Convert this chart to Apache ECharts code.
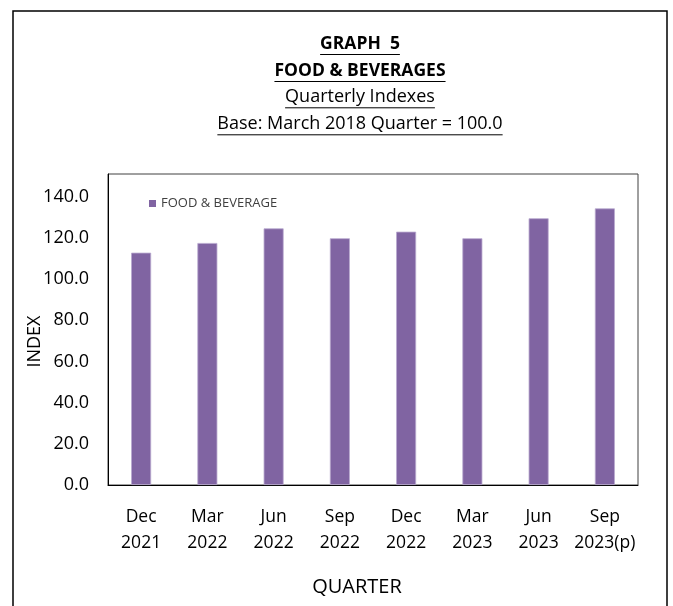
<!DOCTYPE html>
<html>
<head>
<meta charset="utf-8">
<script src="https://cdn.jsdelivr.net/npm/echarts@6/dist/echarts.min.js"></script>
<style>
  html, body { margin: 0; padding: 0; background: #fff; }
  #chart { width: 673px; height: 606px; }
</style>
</head>
<body>
<div id="chart"></div>
<script>
// data
const quarters = ['Dec\n2021', 'Mar\n2022', 'Jun\n2022', 'Sep\n2022', 'Dec\n2022', 'Mar\n2023', 'Jun\n2023', 'Sep\n2023(p)']
const foodIndex = [112.8, 117.5, 124.6, 119.8, 123.0, 119.8, 129.5, 134.3]
const titleLines = ['GRAPH  5', 'FOOD & BEVERAGES', 'Quarterly Indexes', 'Base: March 2018 Quarter = 100.0']

const FONT = '"Open Sans", "Liberation Sans", sans-serif'

// measure text so the underline matches its width
const ctx = document.createElement('canvas').getContext('2d')
function underlinedText(str, cx, cy, size, weight) {
  ctx.font = weight + ' ' + size + 'px ' + FONT
  const w = ctx.measureText(str).width
  return {
    type: 'group',
    children: [
      { type: 'text', x: cx, y: cy,
        style: { text: str, font: weight + ' ' + size + 'px ' + FONT, fill: '#000', align: 'center', verticalAlign: 'middle' } },
      { type: 'line', shape: { x1: cx - w / 2, y1: cy + size * 0.6, x2: cx + w / 2, y2: cy + size * 0.6 },
        style: { stroke: '#000', lineWidth: 1 } }
    ]
  }
}

const chart = echarts.init(document.getElementById('chart'))

const titleY = [44, 71, 97, 124]
const graphics = [
  { type: 'rect', shape: { x: 13, y: 11, width: 654, height: 640 },
    style: { fill: 'none', stroke: '#000', lineWidth: 1.5 } }
]
titleLines.forEach((t, i) => {
  graphics.push(underlinedText(t, 360, titleY[i], i < 2 ? 17.5 : 18, i < 2 ? 'bold' : 'normal'))
})

chart.setOption({
  animation: false,
  graphic: graphics,
  legend: {
    left: 144, top: 192,
    itemWidth: 7, itemHeight: 7, icon: 'rect',
    itemStyle: { borderWidth: 0 },
    textStyle: { fontFamily: FONT, fontSize: 13, color: '#404040' },
    data: ['FOOD & BEVERAGE']
  },
  grid: {
    left: 108, right: 35, top: 174, bottom: 121,
    show: true, borderColor: '#404040', borderWidth: 1
  },
  xAxis: {
    type: 'category',
    data: quarters,
    name: 'QUARTER',
    nameLocation: 'middle',
    nameGap: 92,
    nameMoveOverlap: false,
    nameTextStyle: { fontFamily: FONT, fontSize: 20, color: '#000', padding: [0, 32, 0, 0] },
    axisLine: { lineStyle: { color: '#000', width: 1 } },
    axisTick: { show: false },
    axisLabel: { fontFamily: FONT, fontSize: 17.5, color: '#000', lineHeight: 26, margin: 19, interval: 0 }
  },
  yAxis: {
    type: 'value',
    min: 0, max: 151, interval: 20,
    name: 'INDEX',
    nameLocation: 'middle',
    nameGap: 64,
    nameMoveOverlap: false,
    nameTextStyle: { fontFamily: FONT, fontSize: 18, color: '#000', padding: [0, 24, 0, 0] },
    splitLine: { show: false },
    axisLine: { show: true, lineStyle: { color: '#000', width: 1 } },
    axisTick: { show: false },
    axisLabel: {
      fontFamily: FONT, fontSize: 18, color: '#000', margin: 19,
      showMaxLabel: false,
      formatter: v => v.toFixed(1)
    }
  },
  series: [
    {
      name: 'FOOD & BEVERAGE',
      type: 'bar',
      data: foodIndex,
      barWidth: 20,
      itemStyle: { color: '#8064A2', borderColor: '#b9a9cf', borderWidth: 0.8 }
    }
  ]
})
</script>
</body>
</html>
